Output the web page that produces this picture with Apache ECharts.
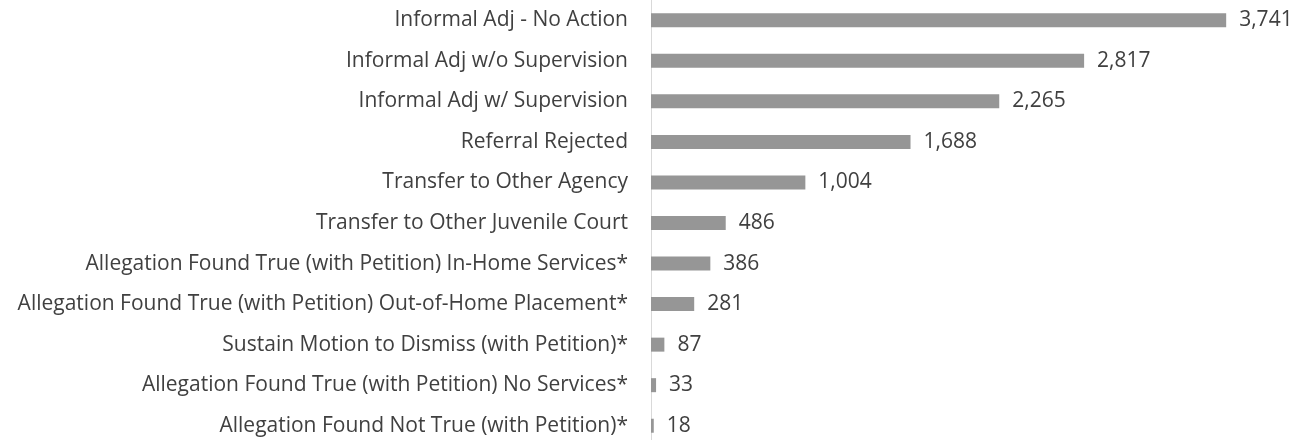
<!DOCTYPE html>
<html>
<head>
<meta charset="utf-8">
<script src="https://cdn.jsdelivr.net/npm/echarts@6/dist/echarts.min.js"></script>
<style>
  html, body { margin: 0; padding: 0; background: #fff; overflow: hidden; }
  #chart { width: 1311px; height: 446px; }
</style>
</head>
<body>
<div id="chart"></div>
<script>
// categories, top to bottom
var categories = [
  'Informal Adj - No Action',
  'Informal Adj w/o Supervision',
  'Informal Adj w/ Supervision',
  'Referral Rejected',
  'Transfer to Other Agency',
  'Transfer to Other Juvenile Court',
  'Allegation Found True (with Petition) In-Home Services*',
  'Allegation Found True (with Petition) Out-of-Home Placement*',
  'Sustain Motion to Dismiss (with Petition)*',
  'Allegation Found True (with Petition) No Services*',
  'Allegation Found Not True (with Petition)*'
]
var counts = [3741, 2817, 2265, 1688, 1004, 486, 386, 281, 87, 33, 18]

var chart = echarts.init(document.getElementById('chart'))
var font = 'Open Sans, sans-serif'
var option = {
  animation: false,
  grid: { left: 651, right: 45, top: 0, bottom: 0 },
  xAxis: {
    type: 'value',
    min: 0,
    max: 4000,
    show: false
  },
  yAxis: {
    type: 'category',
    inverse: true,
    data: categories,
    axisLine: { show: true, lineStyle: { color: '#d9d9d9', width: 1 } },
    axisTick: { show: false },
    axisLabel: { color: '#404040', fontSize: 21, fontFamily: font, margin: 23 }
  },
  series: [
    {
      type: 'bar',
      data: counts,
      barWidth: 14,
      itemStyle: { color: '#969696' },
      label: {
        show: true,
        position: 'right',
        distance: 13,
        color: '#404040',
        fontSize: 21,
        fontFamily: font,
        formatter: function (p) { return p.value.toLocaleString('en-US') }
      }
    }
  ]
}
chart.setOption(option)
window.addEventListener('resize', function () { chart.resize() })
</script>
</body>
</html>
